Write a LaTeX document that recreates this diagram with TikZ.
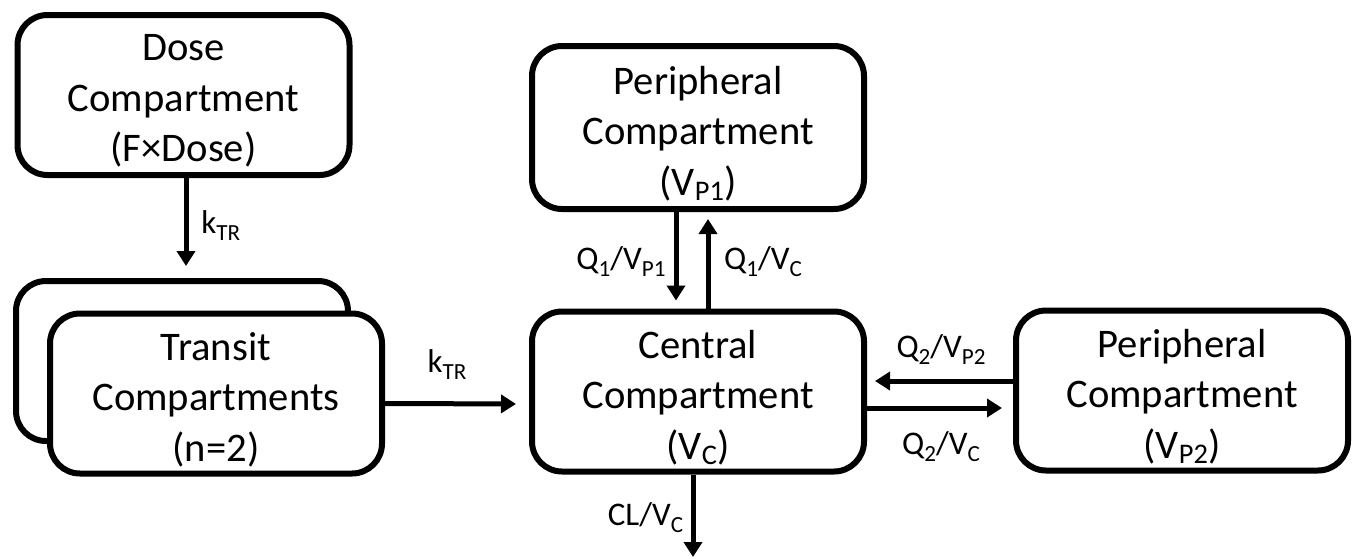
\documentclass[tikz,border=0pt]{standalone}
\usepackage{fontspec}
\setmainfont{Carlito}
\usepackage{graphicx}
\usetikzlibrary{arrows.meta}
\newcommand\lo[1]{\raisebox{-0.13em}{\scalebox{0.7}{#1}}}
\newcommand\lb[1]{\raisebox{-0.22em}{\scalebox{0.7}{#1}}}
\begin{document}
\begin{tikzpicture}[x=0.5pt,y=-0.5pt,
  box/.style={draw,line width=3pt,rounded corners=15pt,minimum width=166pt,minimum height=80pt,inner sep=0pt,fill=white},
  txt/.style={inner sep=0pt,align=center,font=\fontsize{20.3}{25.3}\selectfont},
  arr/.style={line width=2.5pt,-{Triangle[length=7.5pt,width=9pt]}},
  lab/.style={inner sep=0pt,anchor=base,font=\fontsize{16.5}{19}\selectfont}]
\useasboundingbox[fill=white] (0,0) rectangle (1358,558);
% boxes
\node[box] (dose) at (183.5,95) {};
\node[box] (tback) at (182,361) {};
\node[box] (tfront) at (216,393.5) {};
\node[box,minimum height=81.5pt] (p1) at (698,127.5) {};
\node[box] (central) at (698,391.5) {};
\node[box] (p2) at (1182,390.5) {};
% box texts
\node[txt] (dosetxt) at ([yshift=-3pt]dose.center) {Dose\\Compartment\\(F×Dose)};
\node[txt] (ttxt) at ([yshift=-3pt]tfront.center) {Transit\\Compartments\\(n=2)};
\node[txt] (p1txt) at ([yshift=-3pt]p1.center) {Peripheral\\Compartment\\(V\lo{P1})};
\node[txt] (ctxt) at ([yshift=-3pt]central.center) {Central\\Compartment\\(V\lo{C})};
\node[txt] (p2txt) at ([yshift=-3pt]p2.center) {Peripheral\\Compartment\\(V\lo{P2})};
\coordinate (out) at (693,557);
% connectors
\draw[arr,shorten >=6pt] ([xshift=1.25pt]dose.south) -- ([xshift=2pt]tback.north);
\draw[arr,shorten >=6.5pt] ([yshift=-5pt]tfront.east) -- ([yshift=-6.25pt]central.west);
\draw[arr,shorten >=4pt] ([xshift=-11pt]p1.south) -- ([xshift=-11pt]central.north);
\draw[arr,shorten >=3.5pt] ([xshift=5pt]central.north) -- ([xshift=5pt]p1.south);
\draw[arr,shorten >=4pt] ([yshift=4.75pt]p2.west) -- ([yshift=5.25pt]central.east);
\draw[arr,shorten >=5.5pt] ([yshift=-8.25pt]central.east) -- ([yshift=-8.75pt]p2.west);
\draw[arr] ([xshift=-2.5pt]central.south) -- (out);
% labels
\node[lab,anchor=base west] (l1) at (201,233) {k\lb{TR}};
\node[lab] (l2) at (447,372) {k\lb{TR}};
\node[lab] (l3) at (621,269) {Q\lb{1}/V\lb{P1}};
\node[lab] (l4) at (763,269) {Q\lb{1}/V\lb{C}};
\node[lab] (l5) at (941,357) {Q\lb{2}/V\lb{P2}};
\node[lab] (l6) at (941,454) {Q\lb{2}/V\lb{C}};
\node[lab] (l7) at (645.5,525) {CL/V\lb{C}};
\end{tikzpicture}
\end{document}
